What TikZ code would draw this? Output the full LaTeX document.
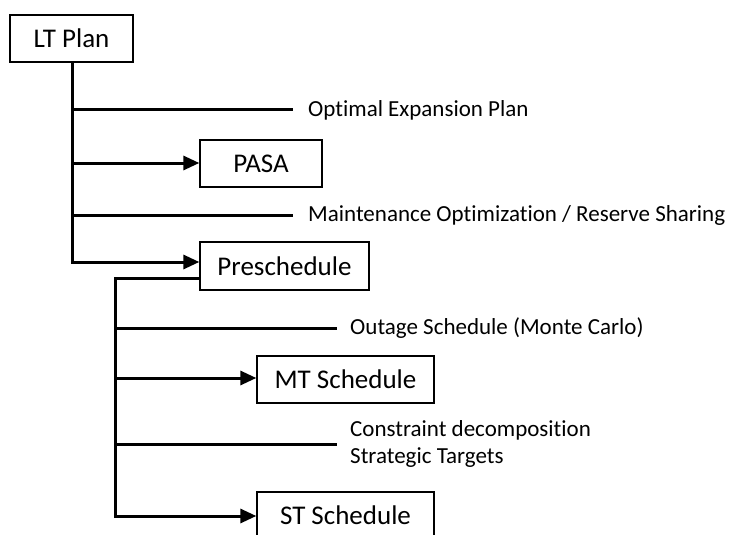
\documentclass[tikz,border=0pt]{standalone}
\usepackage{fontspec}
\setmainfont[Ligatures={NoCommon}]{Carlito}
\usetikzlibrary{arrows.meta}
\begin{document}
\begin{tikzpicture}[x=1pt,y=-1pt,
  boxnode/.style={draw,line width=1.3pt,inner sep=0pt,font=\fontsize{27}{30}\selectfont},
  labnode/.style={anchor=west,inner sep=0pt,font=\fontsize{23}{27}\selectfont,align=left},
  link/.style={line width=3pt},
  arr/.style={line width=3pt,-{Triangle[length=16pt,width=14pt]}}]
\useasboundingbox (0,0) rectangle (729,535);
\clip (0,0) rectangle (729,535);
% boxes
\node[boxnode,minimum width=123pt,minimum height=47pt] (lt) at (71.5,38.5) {LT Plan};
\node[boxnode,minimum width=122pt,minimum height=47pt] (pasa) at (261,163.5) {PASA};
\node[boxnode,minimum width=169pt,minimum height=48pt] (pre) at (284.5,266) {Preschedule};
\node[boxnode,minimum width=177pt,minimum height=47pt] (mt) at (345.5,379.5) {MT Schedule};
\node[boxnode,minimum width=177pt,minimum height=47pt] (st) at (345.5,515.5) {ST Schedule};
% labels
\node[labnode] (oep) at (308,110) {Optimal Expansion Plan};
\node[labnode] (mor) at (308,215) {Maintenance Optimization / Reserve Sharing};
\node[labnode] (out) at (350,328) {Outage Schedule (Monte Carlo)};
\node[labnode] (con) at (350,444) {Constraint decomposition\\Strategic Targets};
% first trunk
\coordinate (a1) at (72,110);
\coordinate (a2) at (72,163);
\coordinate (a3) at (72,215);
\coordinate (a4) at (72,262);
\draw[arr] (lt.south -| a4) -- (a4) -- (a4 -| pre.west);
\draw[link] (a1) -- ([xshift=-15pt]oep.west);
\draw[arr] (a2) -- (a2 -| pasa.west);
\draw[link] (a3) -- ([xshift=-15pt]mor.west);
% second trunk
\coordinate (b0) at (115,278);
\coordinate (b1) at (115,328);
\coordinate (b2) at (115,378);
\coordinate (b3) at (115,444);
\coordinate (b4) at (115,516);
\draw[arr] (b0 -| pre.west) -- (b0) -- (b4) -- (b4 -| st.west);
\draw[link] (b1) -- ([xshift=-13pt]out.west);
\draw[arr] (b2) -- (b2 -| mt.west);
\draw[link] (b3) -- ([xshift=-13pt]con.west);
\end{tikzpicture}
\end{document}
